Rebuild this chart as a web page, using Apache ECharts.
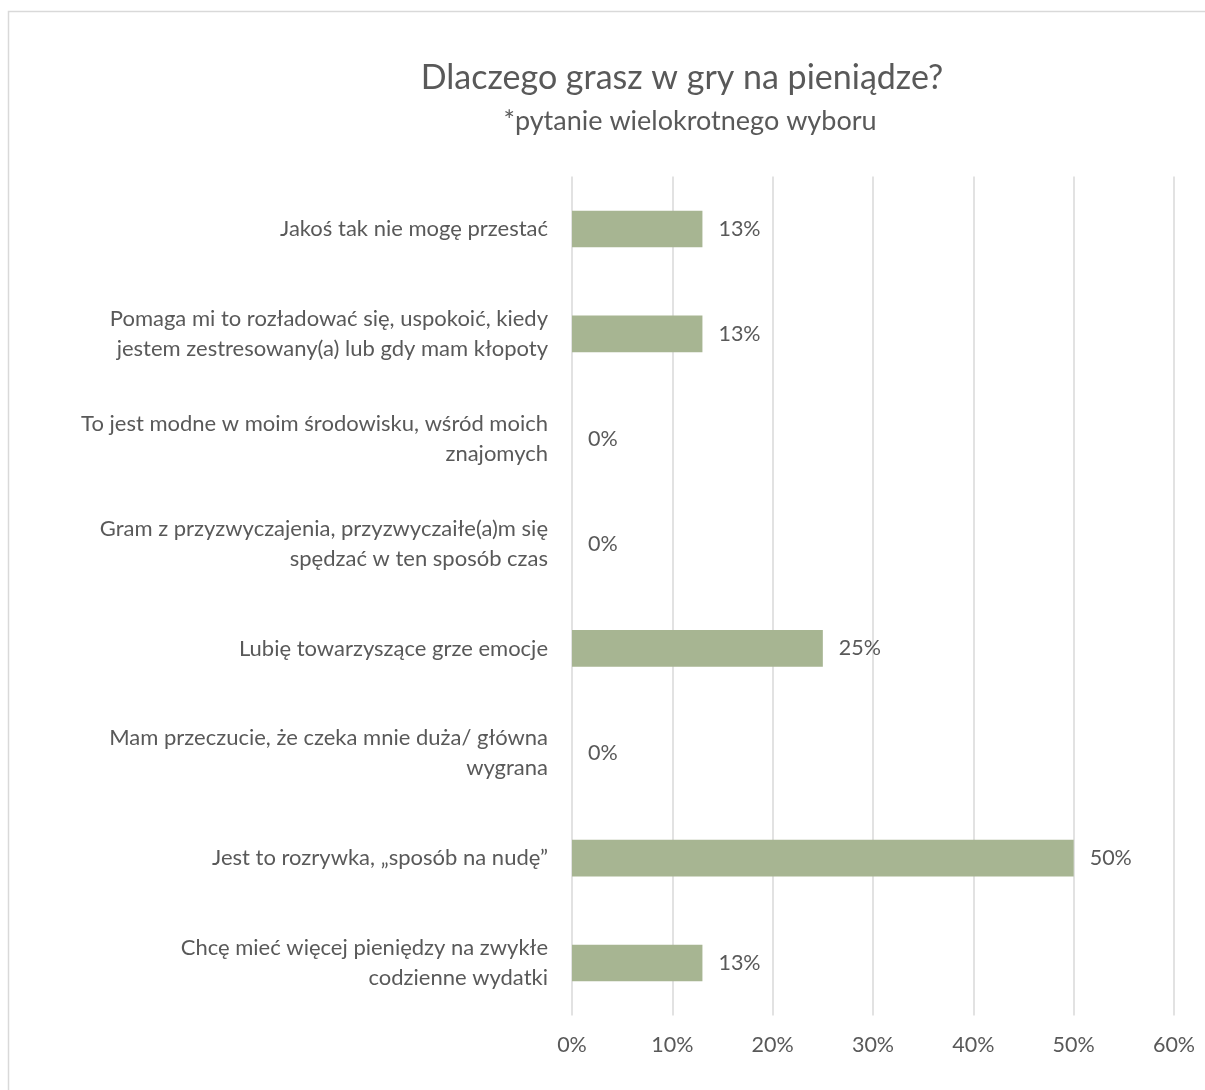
<!DOCTYPE html>
<html><head><meta charset="utf-8">
<script src="https://cdn.jsdelivr.net/npm/echarts@6/dist/echarts.min.js"></script>
<style>html,body{margin:0;padding:0;background:#fff}#c{width:1205px;height:1090px}</style>
</head><body><div id="c"></div>
<script>
const titleText = 'Dlaczego grasz w gry na pieniądze?';
const subtitleText = '*pytanie wielokrotnego wyboru';
const categories = [
  'Jakoś tak nie mogę przestać',
  'Pomaga mi to rozładować się, uspokoić, kiedy\njestem zestresowany(a) lub gdy mam kłopoty',
  'To jest modne w moim środowisku, wśród moich\nznajomych',
  'Gram z przyzwyczajenia, przyzwyczaiłe(a)m się\nspędzać w ten sposób czas',
  'Lubię towarzyszące grze emocje',
  'Mam przeczucie, że czeka mnie duża/ główna\nwygrana',
  'Jest to rozrywka, „sposób na nudę”',
  'Chcę mieć więcej pieniędzy na zwykłe\ncodzienne wydatki'
];
const values = [13, 13, 0, 0, 25, 0, 50, 13];
const xTicks = [0, 10, 20, 30, 40, 50, 60];

const FONT = 'Lato, "Open Sans", sans-serif';
const chart = echarts.init(document.getElementById('c'));
chart.setOption({
  animation: false,
  backgroundColor: '#fff',
  textStyle: { fontFamily: FONT },
  graphic: [{
    type: 'rect', shape: { x: 8.5, y: 11.5, width: 1220, height: 1100 },
    style: { fill: 'none', stroke: '#d9d9d9', lineWidth: 1.5 }, silent: true
  }],
  title: [
    { text: titleText, left: 677, top: 56, textAlign: 'center',
      textStyle: { fontFamily: FONT, fontSize: 34, fontWeight: 'normal', color: '#595959' } },
    { text: subtitleText, left: 685, top: 103, textAlign: 'center',
      textStyle: { fontFamily: FONT, fontSize: 27, fontWeight: 'normal', color: '#595959' } }
  ],
  grid: { left: 572, right: 31, top: 176.6, bottom: 74.6, containLabel: false },
  xAxis: {
    type: 'value', min: xTicks[0], max: xTicks[xTicks.length - 1], interval: 10,
    axisLine: { show: false }, axisTick: { show: false },
    splitLine: { show: true, lineStyle: { color: '#d9d9d9', width: 1.5 } },
    axisLabel: { formatter: v => v + '%', color: '#595959', fontSize: 21.5, margin: 19, fontFamily: FONT }
  },
  yAxis: {
    type: 'category', data: categories, inverse: true,
    axisLine: { show: false }, axisTick: { show: false },
    axisLabel: { color: '#595959', fontSize: 22, margin: 24, align: 'right', lineHeight: 30, fontFamily: FONT }
  },
  series: [{
    type: 'bar', data: values, barCategoryGap: '65%',
    itemStyle: { color: '#a7b592' },
    label: { show: true, position: 'right', distance: 16, formatter: p => p.value + '%', color: '#595959', fontSize: 21.5, fontFamily: FONT }
  }]
});
</script></body></html>
